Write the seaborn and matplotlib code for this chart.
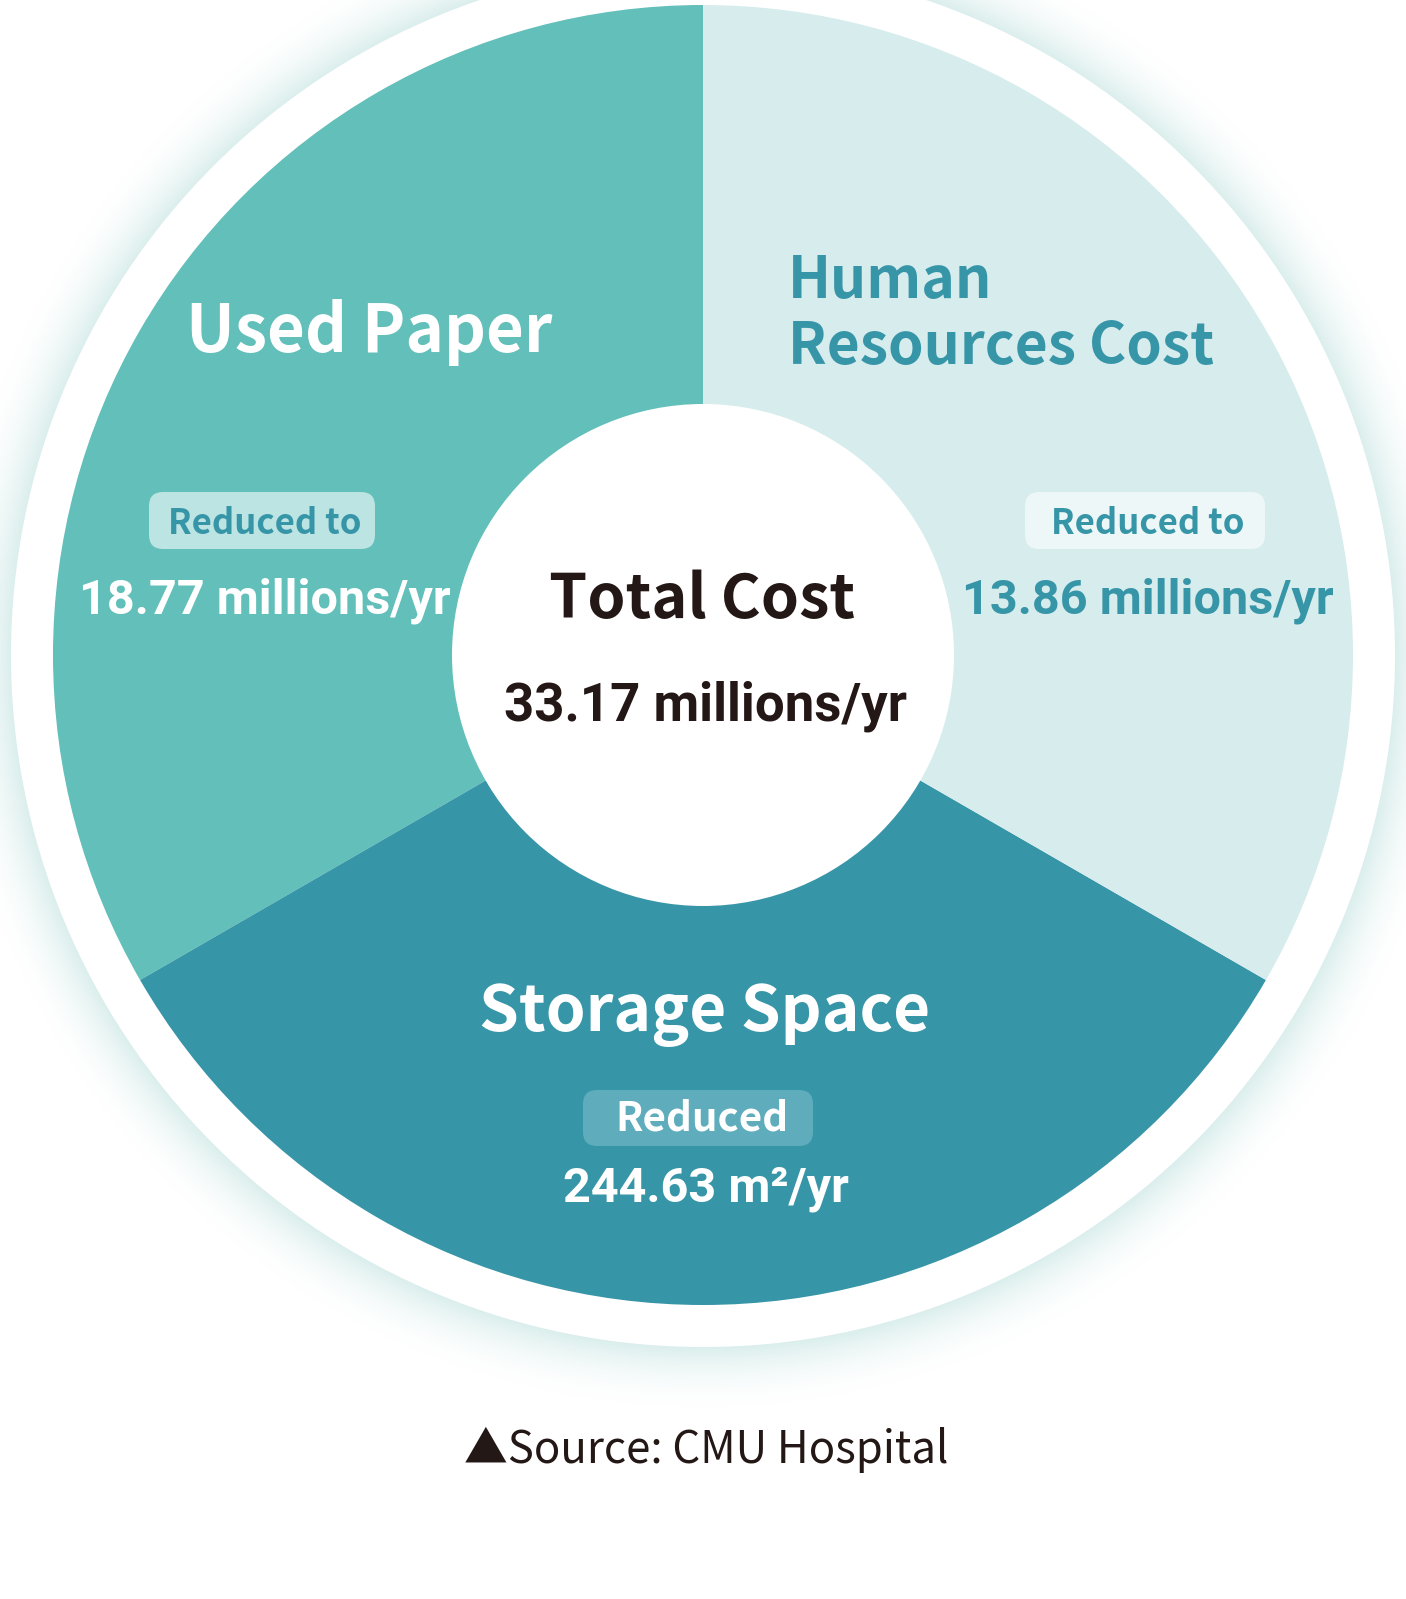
import numpy as np
import matplotlib
matplotlib.use("Agg")
import matplotlib.pyplot as plt
import seaborn as sns
from matplotlib.patches import Circle, FancyBboxPatch

# ---- data ----
categories = ["Used Paper", "Storage Space", "Human Resources Cost"]
shares = [1, 1, 1]
slice_colors = ["#62BFB9", "#3795A8", "#D7ECEC"]
badge_texts = ["Reduced to", "Reduced", "Reduced to"]
value_texts = ["18.77 millions/yr", "244.63 m²/yr", "13.86 millions/yr"]
total_title = "Total Cost"
total_value = "33.17 millions/yr"
source_text = "▲Source: CMU Hospital"

sns.set_theme(style="white")
plt.rcParams['font.family'] = ['Noto Sans CJK SC', 'DejaVu Sans']

W, H = 1406, 1599
fig = plt.figure(figsize=(W / 100, H / 100), dpi=100)
ax = fig.add_axes([0, 0, 1, 1])
ax.set_xlim(0, W)
ax.set_ylim(0, H)
ax.set_aspect('equal')
ax.axis('off')

def Y(y):
    return H - y

cx, cy = 703, Y(655)
R_pie, R_ring, R_hole = 650, 692, 251

# soft glow outside the white ring
xs = np.linspace(0, W, 703)
ys = np.linspace(0, H, 800)
XX, YY = np.meshgrid(xs, ys)
dist = np.hypot(XX - cx, YY - cy)
t = np.clip((dist - R_ring) / 65.0, 0, 1)
alpha = np.where(dist >= R_ring - 2, (1 - t) ** 2, 0) * 0.85
glow = np.zeros((ys.size, xs.size, 4))
glow[..., 0] = 0xD3 / 255
glow[..., 1] = 0xEB / 255
glow[..., 2] = 0xE9 / 255
glow[..., 3] = alpha
ax.imshow(glow, extent=(0, W, 0, H), origin='lower', zorder=0, interpolation='bilinear')

ax.add_patch(Circle((cx, cy), R_ring, color='white', zorder=1, lw=0))

ax.pie(shares, colors=slice_colors, startangle=90, counterclock=True,
       center=(cx, cy), radius=R_pie, frame=True,
       wedgeprops=dict(linewidth=0, zorder=2))
ax.set_xlim(0, W)
ax.set_ylim(0, H)
ax.axis('off')

ax.add_patch(Circle((cx, cy), R_hole, color='white', zorder=3, lw=0))

ax.text(369, Y(332), categories[0], color='white', ha='center', va='center',
        fontsize=47, fontweight='bold', zorder=5)
ax.text(788, Y(281), "Human", color='#3795A8', ha='left', va='center',
        fontsize=41, fontweight='bold', zorder=5)
ax.text(788, Y(347), "Resources Cost", color='#3795A8', ha='left', va='center',
        fontsize=41, fontweight='bold', zorder=5)
ax.text(705, Y(1014), categories[1], color='white', ha='center', va='center',
        fontsize=46, fontweight='bold', zorder=5)

ax.text(702, Y(600), total_title, color='#231815', ha='center', va='center',
        fontsize=44, fontweight='bold', zorder=5)
ax.text(705, Y(706), total_value, color='#231815', ha='center', va='center',
        fontsize=38, fontweight='bold', family=['Roboto', 'DejaVu Sans'], zorder=5)

# badges: (x, y, w, h, bg, fg, text_x, text_y, fontsize)
badges = [
    (149, 492, 226, 57, '#BCE4E2', '#3795A8', 265, 523, 25),
    (583, 1090, 230, 56, '#5FADBC', 'white', 702, 1119, 29),
    (1025, 492, 240, 57, '#EEF7F7', '#3795A8', 1148, 523, 25),
]
for i, (bx, by, bw, bh, bg, fg, tx, ty, fs) in enumerate(badges):
    ax.add_patch(FancyBboxPatch((bx, Y(by + bh)), bw, bh,
                                boxstyle="round,pad=0,rounding_size=14",
                                fc=bg, ec='none', zorder=4))
    ax.text(tx, Y(ty), badge_texts[i], color=fg, ha='center', va='center',
            fontsize=fs, fontweight='bold', zorder=5)

val_kw = dict(fontsize=35, fontweight='bold', family=['Roboto', 'DejaVu Sans'], zorder=5,
              ha='center', va='center')
ax.text(265, Y(601), value_texts[0], color='white', **val_kw)
ax.text(1148, Y(601), value_texts[2], color='#3795A8', **val_kw)
ax.text(706, Y(1189), value_texts[1], color='white', **val_kw)

ax.text(706, Y(1450), source_text, color='#231815', ha='center', va='center',
        fontsize=31.5, zorder=5)

fig.savefig("out.png", dpi=100)
